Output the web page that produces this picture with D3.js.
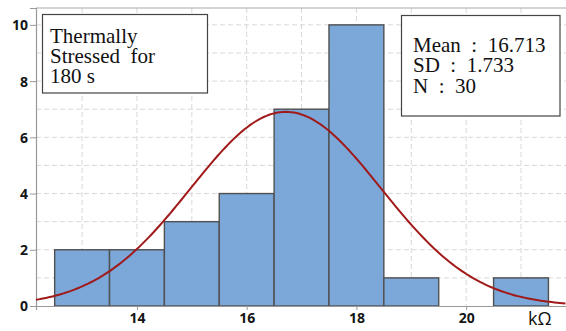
<!DOCTYPE html>
<html>
<head>
<meta charset="utf-8">
<script src="https://cdn.jsdelivr.net/npm/d3@7"></script>
<style>
  body { margin: 0; background: #fff; }
  svg { display: block; }
  .tick text { font-family: "Open Sans", sans-serif; font-weight: 700; font-size: 14px; fill: #151515; }
  .box text { font-family: "Liberation Serif", "Times New Roman", serif; font-size: 21px; fill: #111; white-space: pre; }
</style>
</head>
<body>
<svg id="chart" width="566" height="331"></svg>
<script>
// histogram bins (kΩ) and counts
const binStarts = [12.5, 13.5, 14.5, 15.5, 16.5, 17.5, 18.5, 19.5, 20.5];
const counts    = [2, 2, 3, 4, 7, 10, 1, 0, 1];
const binWidth = 1;

const xTicks = [14, 16, 18, 20];
const yTicks = [0, 2, 4, 6, 8, 10];

const stats = { mean: 16.713, sd: 1.733, n: 30 };
const titleLines = ["Thermally", "Stressed  for", "180 s"];
const statLines = ["Mean  :  16.713", "SD  :  1.733", "N  :  30"];

const margin = { top: 8, right: 0, bottom: 25, left: 36 };
const width = 566 - margin.left - margin.right;
const height = 331 - margin.top - margin.bottom;

const svg = d3.select('#chart');
const g = svg.append('g').attr('transform', `translate(${margin.left},${margin.top})`);

const x = d3.scaleLinear().domain([12.16, 21.82]).range([0, width]);
const y = d3.scaleLinear().domain([0, 10.6]).range([height, 0]);

// grid, every unit
g.append('g').selectAll('line.gx')
  .data(d3.range(13, 22))
  .join('line')
  .attr('x1', d => x(d)).attr('x2', d => x(d))
  .attr('y1', 0).attr('y2', height)
  .attr('stroke', '#d8d8d8').attr('stroke-dasharray', '5,3');
g.append('g').selectAll('line.gy')
  .data(d3.range(1, 11))
  .join('line')
  .attr('x1', 0).attr('x2', width)
  .attr('y1', d => y(d)).attr('y2', d => y(d))
  .attr('stroke', '#d8d8d8').attr('stroke-dasharray', '5,3');

// frame top
g.append('line').attr('x1', 0).attr('x2', width).attr('y1', 0).attr('y2', 0)
  .attr('stroke', '#aaa');

// bars
const bars = binStarts.map((b, i) => ({ x0: b, x1: b + binWidth, c: counts[i] })).filter(d => d.c > 0);
g.selectAll('rect.bar')
  .data(bars)
  .join('rect')
  .attr('x', d => x(d.x0))
  .attr('width', d => x(d.x1) - x(d.x0))
  .attr('y', d => y(d.c))
  .attr('height', d => y(0) - y(d.c))
  .attr('fill', '#7ba7d9')
  .attr('stroke', '#505050')
  .attr('stroke-width', 1.4);

// axes
const xAxis = g.append('g').attr('transform', `translate(0,${height})`)
  .call(d3.axisBottom(x).tickValues(xTicks).tickSize(4).tickPadding(3).tickFormat(d3.format('d')));
const yAxis = g.append('g')
  .call(d3.axisLeft(y).tickValues(yTicks).tickSize(6).tickPadding(2).tickFormat(d3.format('d')));
[xAxis, yAxis].forEach(a => {
  a.select('.domain').attr('stroke', '#999').attr('stroke-width', 1.2);
  a.selectAll('.tick line').attr('stroke', '#999');
});
yAxis.selectAll('.tick text').attr('dy', '0.35em');

// fitted normal curve
const scale = stats.n * binWidth / (stats.sd * Math.sqrt(2 * Math.PI));
const pts = d3.range(x.domain()[0], x.domain()[1] + 0.01, 0.05)
  .map(v => [v, scale * Math.exp(-0.5 * ((v - stats.mean) / stats.sd) ** 2)]);
g.append('path')
  .datum(pts)
  .attr('fill', 'none')
  .attr('stroke', '#a11a1a')
  .attr('stroke-width', 2)
  .attr('d', d3.line().x(d => x(d[0])).y(d => y(d[1])));

// text boxes
function textBox(bx, by, bw, bh, lines, tx, ty) {
  const b = svg.append('g').attr('class', 'box');
  b.append('rect').attr('x', bx).attr('y', by).attr('width', bw).attr('height', bh)
    .attr('fill', '#fff').attr('stroke', '#444').attr('stroke-width', 1.2);
  b.selectAll('text').data(lines).join('text')
    .attr('x', tx).attr('y', (d, i) => ty + i * 20.3)
    .text(d => d);
}
textBox(42.5, 14.5, 165, 78.5, titleLines, 50, 42.5);
textBox(401.5, 15.5, 158.5, 100.5, statLines, 413, 52);

// unit label
svg.append('text').attr('x', 528).attr('y', 325)
  .attr('font-family', '"Open Sans", sans-serif').attr('font-size', 18).attr('fill', '#111')
  .text('kΩ');
</script>
</body>
</html>
